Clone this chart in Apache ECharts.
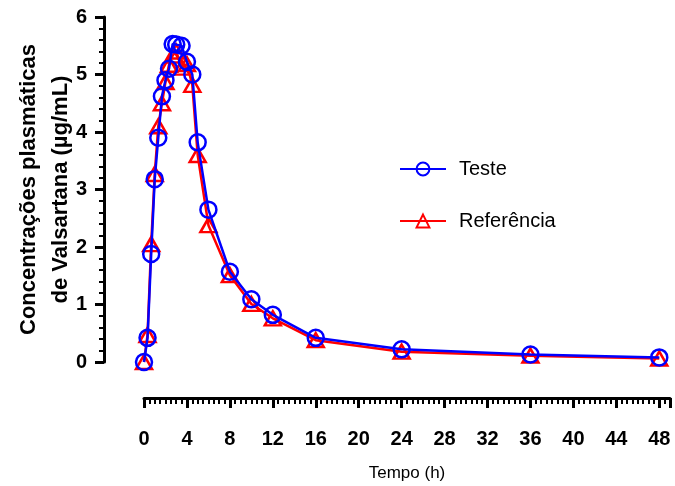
<!DOCTYPE html>
<html>
<head>
<meta charset="utf-8">
<script src="https://cdn.jsdelivr.net/npm/echarts@6/dist/echarts.min.js"></script>
<style>
  html, body { margin: 0; padding: 0; background: #fff; }
  #chart { width: 675px; height: 486px; }
</style>
</head>
<body>
<div id="chart"></div>
<script>
// tempos de coleta (h)
var tempo = [0, 0.33, 0.67, 1, 1.33, 1.67, 2, 2.33, 2.67, 3, 3.5, 4, 4.5, 5, 6, 8, 10, 12, 16, 24, 36, 48];
var teste = [0, 0.42, 1.88, 3.18, 3.9, 4.62, 4.9, 5.1, 5.53, 5.52, 5.5, 5.22, 5.0, 3.82, 2.65, 1.57, 1.09, 0.82, 0.42, 0.22, 0.13, 0.08];
var referencia = [0, 0.47, 2.05, 3.27, 4.1, 4.5, 4.87, 5.17, 5.33, 5.4, 5.12, 5.18, 4.82, 3.6, 2.38, 1.51, 1.01, 0.76, 0.38, 0.18, 0.11, 0.06];
var xTicks = [0, 4, 8, 12, 16, 20, 24, 28, 32, 36, 40, 44, 48];
var yTicks = [0, 1, 2, 3, 4, 5, 6];

function pares(xs, ys) {
  return xs.map(function (x, i) { return [x, ys[i]]; });
}

var fonte = 'Liberation Sans, Arial, sans-serif';
var chart = echarts.init(document.getElementById('chart'));

var option = {
  animation: false,
  backgroundColor: '#fff',
  grid: { left: 144, right: 5, top: 17, bottom: 124, outerBoundsMode: 'none' },
  legend: {
    orient: 'vertical',
    left: 394,
    top: 154,
    itemWidth: 46,
    itemHeight: 16,
    itemGap: 32,
    textStyle: { fontFamily: fonte, fontSize: 20, color: '#000', padding: [0, 0, 0, 8] },
    data: ['Teste', 'Referência']
  },
  xAxis: {
    type: 'value',
    min: 0,
    max: 49,
    interval: 4,
    offset: 36,
    name: 'Tempo (h)',
    nameLocation: 'middle',
    nameGap: 67,
    nameMoveOverlap: false,
    nameTextStyle: { fontFamily: fonte, fontSize: 17, color: '#000' },
    axisLine: { show: true, onZero: false, lineStyle: { color: '#000', width: 3 } },
    axisTick: { show: true, length: 10, lineStyle: { color: '#000', width: 3 } },
    minorTick: { show: true, splitNumber: 8, length: 6, lineStyle: { color: '#000', width: 2 } },
    splitLine: { show: false },
    axisLabel: {
      margin: 31,
      fontFamily: fonte, fontSize: 20, fontWeight: 'bold', color: '#000',
      formatter: function (v) { return xTicks.indexOf(v) >= 0 ? String(v) : ''; }
    }
  },
  yAxis: {
    type: 'value',
    min: 0,
    max: 6,
    interval: 1,
    offset: 40,
    name: 'Concentrações plasmáticas\nde Valsartana (µg/mL)',
    nameLocation: 'middle',
    nameGap: 27,
    nameRotate: 90,
    nameMoveOverlap: false,
    nameTextStyle: { fontFamily: fonte, fontSize: 22, fontWeight: 'bold', color: '#000', lineHeight: 32 },
    axisLine: { show: true, onZero: false, lineStyle: { color: '#000', width: 3 } },
    axisTick: { show: true, length: 9, lineStyle: { color: '#000', width: 3 } },
    minorTick: { show: true, splitNumber: 5, length: 5, lineStyle: { color: '#000', width: 2 } },
    splitLine: { show: false },
    axisLabel: {
      margin: 17,
      fontFamily: fonte, fontSize: 20, fontWeight: 'bold', color: '#000',
      formatter: function (v) { return yTicks.indexOf(v) >= 0 ? String(v) : ''; }
    }
  },
  series: [
    {
      name: 'Teste',
      type: 'line',
      z: 3,
      clip: false,
      data: pares(tempo, teste),
      symbol: 'circle',
      symbolSize: 16,
      color: '#0000ff',
      lineStyle: { color: '#0000ff', width: 2.5 },
      itemStyle: { color: 'rgba(0,0,0,0)', borderColor: '#0000ff', borderWidth: 2.5 }
    },
    {
      name: 'Referência',
      type: 'line',
      z: 2,
      clip: false,
      data: pares(tempo, referencia),
      symbol: 'triangle',
      symbolSize: [16, 14],
      color: '#ff0000',
      lineStyle: { color: '#ff0000', width: 2.5 },
      itemStyle: { color: 'rgba(0,0,0,0)', borderColor: '#ff0000', borderWidth: 2.5 }
    }
  ]
};

chart.setOption(option);
window.addEventListener('resize', function () {
  chart.resize();
});
</script>
</body>
</html>
